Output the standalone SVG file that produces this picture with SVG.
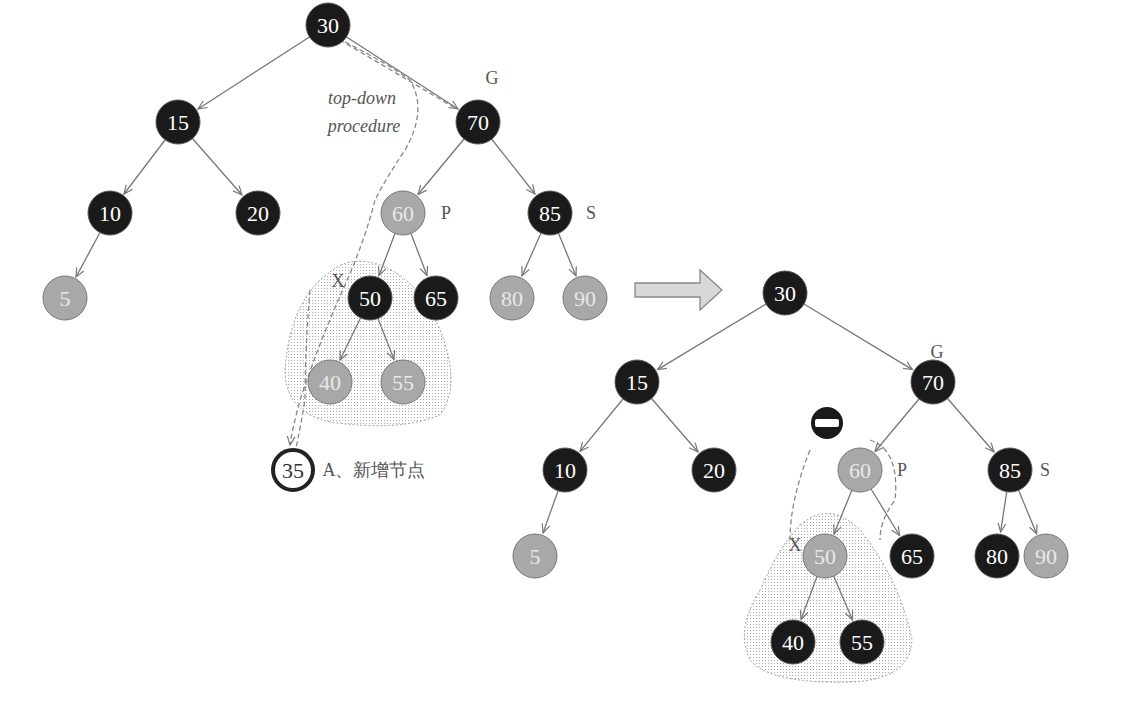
<svg xmlns="http://www.w3.org/2000/svg" width="1122" height="701" viewBox="0 0 1122 701">
<defs>
<marker id="ah" markerWidth="10" markerHeight="10" refX="9" refY="5" orient="auto" markerUnits="userSpaceOnUse"><path d="M0,1 L9,5 L0,9" fill="none" stroke="#777" stroke-width="1.2"/></marker>
<pattern id="dots" width="3" height="3" patternUnits="userSpaceOnUse"><rect width="3" height="3" fill="#fff"/><rect width="1" height="1" fill="#aaa"/></pattern>
</defs>
<style>
.b circle{fill:#1a1a1a;stroke:#555;stroke-width:1}
.r circle{fill:#a8a8a8;stroke:#777;stroke-width:1}
text{font-family:"Liberation Serif",serif;font-size:22px;text-anchor:middle}
.b text{fill:#fff}
.r text{fill:#e8e8e8}
.lbl{fill:#555;font-size:18px}
.e line{stroke:#777;stroke-width:1.3;marker-end:url(#ah)}
.d{fill:none;stroke:#888;stroke-width:1.3;stroke-dasharray:5,3}
.blob{fill:url(#dots);stroke:#999;stroke-width:1;stroke-dasharray:2,2}
</style>
<rect width="1122" height="701" fill="#fff"/>
<g id="blobs">
<path class="blob" d="M330,272 Q350,255 380,265 Q420,280 440,330 Q462,385 440,415 Q400,432 330,422 Q285,412 285,370 Q290,300 330,272 Z"/>
<path class="blob" d="M800,525 Q830,500 860,530 Q900,580 912,640 Q910,680 850,682 Q770,684 750,660 Q735,630 760,590 Q780,545 800,525 Z"/>
<path class="d" d="M870,440 Q900,450 895,500 Q880,520 880,540 M810,450 Q790,500 790,540"/>
</g>
<g id="connectors" class="e">
<line x1="309.5" y1="37" x2="198" y2="109"/>
<line x1="346.5" y1="37" x2="458" y2="109"/>
<line x1="165" y1="140" x2="124" y2="194"/>
<line x1="192.5" y1="138.5" x2="242" y2="195"/>
<line x1="464" y1="139" x2="418" y2="194.5"/>
<line x1="491.6" y1="139" x2="535" y2="194"/>
<line x1="100" y1="232.5" x2="76" y2="277"/>
<line x1="395" y1="233.5" x2="379" y2="275.6"/>
<line x1="411" y1="233.5" x2="427" y2="275.6"/>
<line x1="541" y1="233" x2="522" y2="276"/>
<line x1="558.4" y1="233" x2="576" y2="276"/>
<line x1="360.5" y1="318" x2="340" y2="360"/>
<line x1="378" y1="318.5" x2="394" y2="359.6"/>
<line x1="766" y1="304" x2="657.6" y2="369.6"/>
<line x1="804" y1="304" x2="912.4" y2="369.6"/>
<line x1="623" y1="399" x2="580" y2="451.4"/>
<line x1="651.5" y1="398.5" x2="698" y2="452"/>
<line x1="919" y1="399" x2="875" y2="451.5"/>
<line x1="947.5" y1="398.5" x2="994" y2="452"/>
<line x1="558" y1="491" x2="543" y2="533"/>
<line x1="852" y1="490" x2="834" y2="534"/>
<line x1="871" y1="489" x2="899.6" y2="535.5"/>
<line x1="1006.7" y1="492" x2="1000.6" y2="532"/>
<line x1="1018.5" y1="490" x2="1036.7" y2="534"/>
<line x1="817" y1="576.6" x2="801" y2="619.5"/>
<line x1="833.7" y1="576" x2="852.5" y2="620"/>
<path class="d" d="M345,42 Q390,65 410,80 Q428,110 405,150 Q385,180 375,200 Q365,240 345,285 Q320,340 300,400 Q292,430 290,445" marker-end="url(#ah)"/>
<path class="d" d="M340,40 L455,108"/>
<path class="d" d="M310,290 Q305,350 305,400 Q300,430 296,448"/>
</g>
<g id="arrow"><path d="M635,283 L700,283 L700,270 L722,290 L700,310 L700,297 L635,297 Z" fill="#d8d8d8" stroke="#888" stroke-width="1.3"/></g>
<g id="n30" class="b"><circle cx="328" cy="25" r="22"/><text x="328" y="33">30</text></g>
<g id="n15" class="b"><circle cx="178" cy="122" r="22"/><text x="178" y="130">15</text></g>
<g id="n70" class="b"><circle cx="478" cy="122" r="22"/><text x="478" y="130">70</text></g>
<g id="n10" class="b"><circle cx="110" cy="213" r="22"/><text x="110" y="221">10</text></g>
<g id="n20" class="b"><circle cx="258" cy="213" r="22"/><text x="258" y="221">20</text></g>
<g id="n60" class="r"><circle cx="403" cy="213" r="22"/><text x="403" y="221">60</text></g>
<g id="n85" class="b"><circle cx="550" cy="213" r="22"/><text x="550" y="221">85</text></g>
<g id="n5" class="r"><circle cx="65" cy="298" r="22"/><text x="65" y="306">5</text></g>
<g id="n50" class="b"><circle cx="370" cy="298" r="22"/><text x="370" y="306">50</text></g>
<g id="n65" class="b"><circle cx="436" cy="298" r="22"/><text x="436" y="306">65</text></g>
<g id="n80" class="r"><circle cx="512" cy="298" r="22"/><text x="512" y="306">80</text></g>
<g id="n90" class="r"><circle cx="585" cy="298" r="22"/><text x="585" y="306">90</text></g>
<g id="n40" class="r"><circle cx="330" cy="382" r="22"/><text x="330" y="390">40</text></g>
<g id="n55" class="r"><circle cx="403" cy="382" r="22"/><text x="403" y="390">55</text></g>
<g id="n35"><circle cx="293" cy="470" r="20" fill="#fff" stroke="#222" stroke-width="4"/><text x="293" y="478" fill="#333">35</text></g>
<g id="labelsL">
<text class="lbl" x="492" y="84">G</text><text class="lbl" x="446" y="219">P</text><text class="lbl" x="591" y="219">S</text><text class="lbl" x="338" y="287">X</text>
<text class="lbl" x="362" y="104" font-style="italic" font-size="17">top-down</text>
<text class="lbl" x="364" y="132" font-style="italic" font-size="17">procedure</text>
<text class="lbl" x="374" y="476" font-family="'Liberation Sans','Noto Sans CJK SC',sans-serif" font-size="17">A、新增节点</text>
</g>
<g id="m30" class="b"><circle cx="785" cy="293" r="22"/><text x="785" y="301">30</text></g>
<g id="m15" class="b"><circle cx="637" cy="382" r="22"/><text x="637" y="390">15</text></g>
<g id="m70" class="b"><circle cx="933" cy="382" r="22"/><text x="933" y="390">70</text></g>
<g id="m10" class="b"><circle cx="565" cy="470" r="22"/><text x="565" y="478">10</text></g>
<g id="m20" class="b"><circle cx="714" cy="470" r="22"/><text x="714" y="478">20</text></g>
<g id="m60" class="r"><circle cx="860" cy="470" r="22"/><text x="860" y="478">60</text></g>
<g id="m85" class="b"><circle cx="1010" cy="470" r="22"/><text x="1010" y="478">85</text></g>
<g id="m5" class="r"><circle cx="535" cy="556" r="22"/><text x="535" y="564">5</text></g>
<g id="m50" class="r"><circle cx="825" cy="556" r="22"/><text x="825" y="564">50</text></g>
<g id="m65" class="b"><circle cx="912" cy="556" r="22"/><text x="912" y="564">65</text></g>
<g id="m80" class="b"><circle cx="997" cy="556" r="22"/><text x="997" y="564">80</text></g>
<g id="m90" class="r"><circle cx="1046" cy="556" r="22"/><text x="1046" y="564">90</text></g>
<g id="m40" class="b"><circle cx="793" cy="642" r="22"/><text x="793" y="650">40</text></g>
<g id="m55" class="b"><circle cx="862" cy="642" r="22"/><text x="862" y="650">55</text></g>
<g id="minus"><circle cx="827" cy="423" r="16" fill="#1a1a1a"/><rect x="815" y="419" width="24" height="8" rx="2" fill="#fff"/></g>
<g id="labelsR">
<text class="lbl" x="937" y="358">G</text><text class="lbl" x="902" y="476">P</text><text class="lbl" x="1045" y="476">S</text><text class="lbl" x="795" y="551">X</text>
</g>
</svg>
